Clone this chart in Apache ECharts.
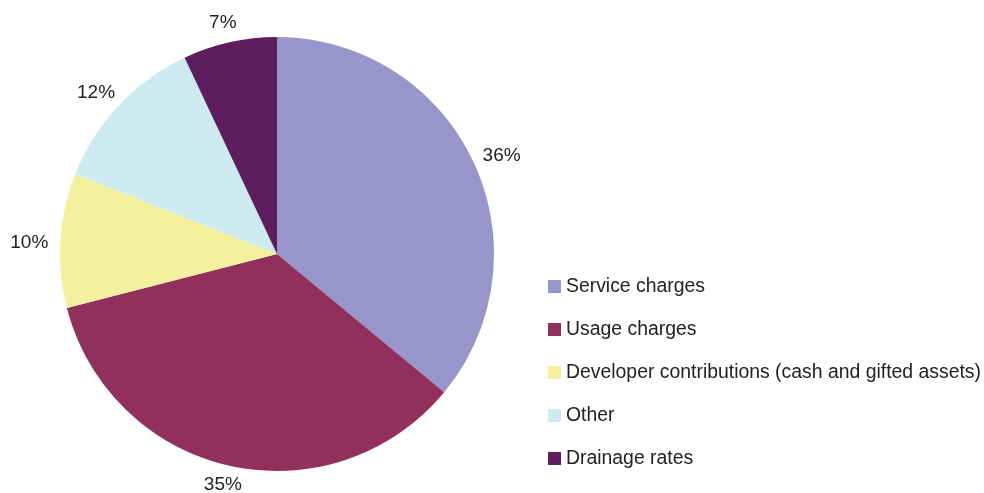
<!DOCTYPE html>
<html>
<head>
<meta charset="utf-8">
<script src="https://cdn.jsdelivr.net/npm/echarts@6/dist/echarts.min.js"></script>
<style>
  html, body { margin: 0; padding: 0; background: #fff; }
  #chart { width: 984px; height: 493px; }
</style>
</head>
<body>
<div id="chart"></div>
<script>
// Revenue sources, share of total (%)
const categories = [
  'Service charges',
  'Usage charges',
  'Developer contributions (cash and gifted assets)',
  'Other',
  'Drainage rates'
];
const shares = [36, 35, 10, 12, 7];
const colors = ['#9795C9', '#92305D', '#F4F09E', '#CDEAF0', '#5E1D5E'];

const FONT = 'Liberation Sans, Arial, sans-serif';
const TEXT = '#222';
const CX = 277;
const pieData = categories.map((name, i) => ({ name, value: shares[i] }));

const chart = echarts.init(document.getElementById('chart'));
const chartHeight = chart.getHeight();
chart.setOption({
  animation: false,
  legend: {
    orient: 'vertical',
    left: 543,
    top: 272,
    itemWidth: 13,
    itemHeight: 13,
    itemGap: 24,
    icon: 'rect',
    textStyle: { fontFamily: FONT, fontSize: 19.4, color: TEXT },
    data: categories.map((name, i) => ({ name, itemStyle: { color: colors[i] } }))
  },
  series: [
    {
      // the pie itself
      type: 'pie',
      center: [CX, 254],
      radius: 217,
      startAngle: 90,
      clockwise: true,
      color: colors,
      label: { show: false },
      labelLine: { show: false },
      emphasis: { disabled: true },
      itemStyle: { borderWidth: 0 },
      data: pieData
    },
    {
      // transparent ring just outside the pie, carrying the percentage labels
      type: 'pie',
      center: [CX, 258],
      radius: [228, 248],
      startAngle: 90,
      clockwise: true,
      silent: true,
      legendHoverLink: false,
      itemStyle: { color: 'rgba(0,0,0,0)', borderWidth: 0 },
      label: {
        show: true,
        position: 'inside',
        formatter: '{c}%',
        fontFamily: FONT,
        fontSize: 19,
        color: TEXT
      },
      // push side labels a little further out, and keep labels inside the canvas
      labelLayout: function (params) {
        const r = params.labelRect;
        return {
          dx: (r.x + r.width / 2 - CX) * 0.03,
          dy: Math.min(0, chartHeight + 1 - (r.y + r.height))
        };
      },
      labelLine: { show: false },
      emphasis: { disabled: true },
      data: pieData
    }
  ]
});
</script>
</body>
</html>
